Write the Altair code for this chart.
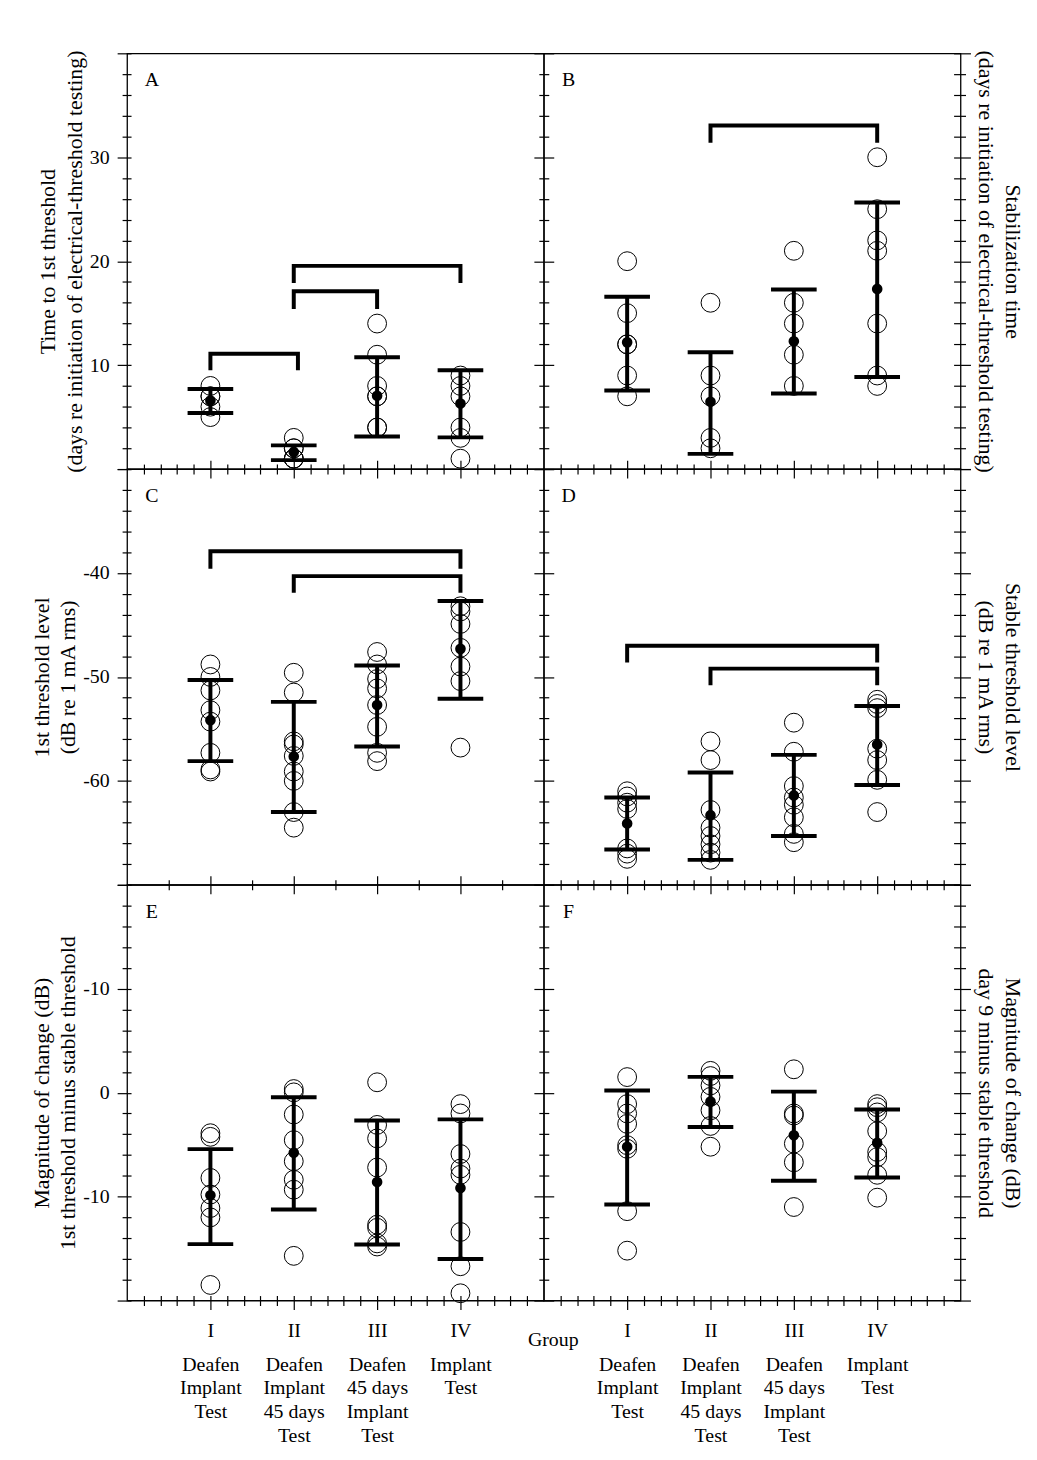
import json
import altair as alt
import pandas as pd

FONT = "Liberation Serif"

GROUPS = [1, 2, 3, 4]
ROMAN = ["I", "II", "III", "IV"]
DESCR = [["Deafen", "Implant", "Test"],
         ["Deafen", "Implant", "45 days", "Test"],
         ["Deafen", "45 days", "Implant", "Test"],
         ["Implant", "Test"]]

# ---- Panel A: time to 1st threshold (days)
A_POINTS = [[8, 7, 7, 6, 5], [3, 2, 2, 1, 1, 1], [14, 11, 8, 7, 7, 4, 4], [9, 8, 7, 4, 3, 1]]
A_MEAN = [6.6, 1.65, 7.05, 6.3]
A_UPPER = [7.7, 2.28, 10.76, 9.5]
A_LOWER = [5.4, 0.86, 3.14, 3.05]
A_BRACKETS = [(1, 2.05, 11.1, 9.5), (2, 3, 17.1, 15.4), (2, 4, 19.55, 17.9)]

# ---- Panel B: stabilization time (days)
B_POINTS = [[20, 15, 12, 12, 9, 7], [16, 9, 7, 3, 2], [21, 16, 14, 11, 8], [30, 25, 22, 21, 14, 9, 8]]
B_MEAN = [12.19, 6.48, 12.29, 17.33]
B_UPPER = [16.57, 11.24, 17.27, 25.65]
B_LOWER = [7.55, 1.46, 7.27, 8.86]
B_BRACKETS = [(2, 4, 33.05, 31.4)]

# ---- Panel C: 1st threshold level (dB)
C_POINTS = [[-48.8, -50.0, -51.3, -53.2, -54.3, -57.3, -58.9, -59.1],
            [-49.6, -51.5, -56.2, -56.5, -57.6, -59.1, -60.0, -63.0, -64.5],
            [-47.6, -48.8, -50.2, -51.1, -52.7, -54.8, -57.3, -58.1],
            [-43.2, -43.7, -44.9, -47.2, -49.0, -50.4, -56.8]]
C_MEAN = [-54.16, -57.65, -52.7, -47.3]
C_UPPER = [-50.3, -52.4, -48.9, -42.7]
C_LOWER = [-58.1, -63.0, -56.7, -52.1]
C_BRACKETS = [(1, 4, -37.9, -39.6), (2, 4, -40.3, -41.9)]

# ---- Panel D: stable threshold level (dB)
D_POINTS = [[-61.0, -61.5, -62.1, -62.7, -66.5, -67.0, -67.5],
            [-56.2, -58.0, -62.8, -64.5, -65.3, -66.1, -66.9, -67.6],
            [-54.4, -57.2, -60.5, -61.6, -62.3, -63.5, -65.1, -65.9],
            [-52.2, -52.6, -53.0, -56.9, -58.0, -59.9, -63.0]]
D_MEAN = [-64.1, -63.3, -61.4, -56.5]
D_UPPER = [-61.6, -59.2, -57.5, -52.8]
D_LOWER = [-66.6, -67.6, -65.3, -60.4]
D_BRACKETS = [(1, 4, -47.0, -48.6), (2, 4, -49.2, -50.8)]

# ---- Panel E: 1st threshold minus stable threshold (dB, axis reversed)
E_POINTS = [[3.9, 4.25, 8.2, 9.8, 11.1, 12.0, 18.5],
            [-0.35, -0.03, 2.1, 4.57, 6.6, 8.38, 9.33, 15.7],
            [-1.0, 3.1, 4.4, 7.2, 12.7, 13.0, 14.5, 14.8],
            [1.1, 2.0, 5.9, 7.3, 7.9, 13.4, 16.7, 19.3]]
E_MEAN = [9.87, 5.78, 8.6, 9.17]
E_UPPER = [5.43, 0.44, 2.67, 2.57]
E_LOWER = [14.57, 11.24, 14.6, 16.0]

# ---- Panel F: day 9 minus stable threshold (dB, axis reversed)
F_POINTS = [[-1.5, 1.1, 2.0, 3.0, 5.05, 5.4, 11.4, 15.2],
            [-2.1, -1.6, -0.7, 0.4, 1.7, 3.2, 5.2],
            [-2.25, 2.0, 2.2, 4.9, 6.7, 11.0],
            [1.1, 1.4, 1.9, 3.7, 5.7, 6.2, 7.9, 10.1]]
F_MEAN = [5.2, 0.86, 4.1, 4.83]
F_UPPER = [-0.2, -1.52, -0.1, 1.62]
F_LOWER = [10.76, 3.3, 8.48, 8.16]

TITLES = {
    "A": ["Time to 1st threshold", "(days re initiation of electrical-threshold testing)"],
    "B": ["Stabilization time", "(days re initiation of electrical-threshold testing)"],
    "C": ["1st threshold level", "(dB re 1 mA rms)"],
    "D": ["Stable threshold level", "(dB re 1 mA rms)"],
    "E": ["Magnitude of change (dB)", "1st threshold minus stable threshold"],
    "F": ["Magnitude of change (dB)", "day 9 minus stable threshold"],
}

W = 420
H = 419


def xticks(step):
    n = int(round(5 / step))
    return [round(i * step, 2) for i in range(1, n)]


def yticks(dom):
    lo, hi = min(dom), max(dom)
    return list(range(lo, hi + 1, 2))


X_MAJOR = {"condition": {"test": "abs(datum.value - round(datum.value)) < 0.01", "value": 9}, "value": 5}
Y_MAJOR = {"condition": {"test": "datum.value % 10 === 0", "value": 10}, "value": 5}


def tick_axis(orient, values, size, offset=0):
    return alt.Axis(orient=orient, values=values, labels=False, domain=False, grid=False,
                    ticks=True, tickSize=size, offset=offset, title=None)


def panel(letter, side, row, dom, rev, points, mean, up, lo, brackets,
          ylab_values, ylab_expr, xbot_step, xtop_step):
    xs = alt.Scale(domain=[0, 5], nice=False, zero=False)
    ys = alt.Scale(domain=dom, nice=False, zero=False, reverse=rev)
    pts = pd.DataFrame([{"g": g, "v": v} for g, vals in zip(GROUPS, points) for v in vals])
    stats = pd.DataFrame({"g": GROUPS, "m": mean, "u": up, "l": lo})

    def X(ax=None):
        return alt.X("g:Q", scale=xs, axis=ax)

    def Y(field, ax=None):
        return alt.Y(field + ":Q", scale=ys, axis=ax)

    layers = []
    carriers = []
    carriers.append((tick_axis("bottom", xticks(xbot_step), X_MAJOR),
                     tick_axis("left", yticks(dom), Y_MAJOR)))
    carriers.append((tick_axis("top", xticks(xtop_step), X_MAJOR) if row > 0 else None,
                     tick_axis("right", yticks(dom), Y_MAJOR)))
    inner_y = (tick_axis("left", yticks(dom), 4, offset=-4) if side == "left"
               else tick_axis("right", yticks(dom), 7, offset=-7))
    carriers.append((tick_axis("bottom", xticks(xbot_step), 5, offset=-5) if row == 2 else None,
                     inner_y))
    if side == "left":
        ylab = alt.Axis(orient="left", values=ylab_values, ticks=False, tickSize=0, domain=False,
                        grid=False, labelPadding=18, labelExpr=ylab_expr,
                        title=TITLES[letter], titlePadding=3)
    else:
        ylab = alt.Axis(orient="right", labels=False, ticks=False, tickSize=0, domain=False,
                        grid=False, title=TITLES[letter], titlePadding=13)
    xrom = None
    if row == 2:
        rom_expr = "[''," + ",".join("'%s'" % r for r in ROMAN) + "][datum.value]"
        rom_kw = dict(orient="bottom", values=GROUPS, ticks=False, tickSize=0, domain=False,
                      grid=False, labelPadding=20, labelExpr=rom_expr, labelOverlap=False,
                      title=None)
        if letter == "E":
            rom_kw.update(title="Group", titleX=W + 9, titleY=39, titleAlign="center",
                          titleBaseline="middle", titleAngle=0, titleFontSize=20)
        xrom = alt.Axis(**rom_kw)
    carriers.append((xrom, ylab))
    if row == 2:
        desc_expr = json.dumps([[]] + DESCR) + "[datum.value]"
        xdesc = alt.Axis(orient="bottom", values=GROUPS, ticks=False, tickSize=0, domain=False,
                         grid=False, labelPadding=54, labelExpr=desc_expr, labelOverlap=False,
                         labelLineHeight=24, title=None)
        carriers.append((xdesc, None))

    for xa, ya in carriers:
        layers.append(alt.Chart(pts).mark_point(opacity=0).encode(x=X(xa), y=Y("v", ya)))

    layers.append(alt.Chart(stats).mark_rule(strokeWidth=4, color="black").encode(
        x=X(), y=Y("l"), y2="u:Q"))
    for f in ("u", "l"):
        layers.append(alt.Chart(stats).mark_tick(orient="horizontal", size=46, thickness=4,
                                                  color="black", opacity=1).encode(x=X(), y=Y(f)))
    layers.append(alt.Chart(pts).mark_point(shape="circle", filled=False, size=360, stroke="black",
                                            strokeWidth=1, opacity=1).encode(x=X(), y=Y("v")))
    layers.append(alt.Chart(stats).mark_point(shape="circle", filled=True, size=115, color="black",
                                              opacity=1).encode(x=X(), y=Y("m")))
    if brackets:
        rows = []
        for i, (a, b, top, foot) in enumerate(brackets):
            for o, (gx, gy) in enumerate([(a, foot), (a, top), (b, top), (b, foot)]):
                rows.append({"g": gx, "v": gy, "b": i, "o": o})
        layers.append(alt.Chart(pd.DataFrame(rows)).mark_line(
            strokeWidth=4, color="black", strokeJoin="miter", strokeCap="butt").encode(
            x=X(), y=Y("v"), detail="b:N", order="o:Q"))
    layers.append(alt.Chart(pd.DataFrame({"t": [letter]})).mark_text(
        font=FONT, fontSize=20, align="center", baseline="middle", color="black").encode(
        text="t:N", x=alt.value(25), y=alt.value(27)))

    return alt.layer(*layers).resolve_axis(x="independent", y="independent").properties(
        width=W, height=H)


PLAIN_EXPR = "'' + datum.value"
E_EXPR = "datum.value == 0 ? '0' : '-' + abs(datum.value)"

pA = panel("A", "left", 0, [0, 40], False, A_POINTS, A_MEAN, A_UPPER, A_LOWER, A_BRACKETS,
           [10, 20, 30], PLAIN_EXPR, 0.2, 0.2)
pB = panel("B", "right", 0, [0, 40], False, B_POINTS, B_MEAN, B_UPPER, B_LOWER, B_BRACKETS,
           [], PLAIN_EXPR, 0.2, 0.2)
pC = panel("C", "left", 1, [-70, -30], False, C_POINTS, C_MEAN, C_UPPER, C_LOWER, C_BRACKETS,
           [-60, -50, -40], PLAIN_EXPR, 0.5, 0.2)
pD = panel("D", "right", 1, [-70, -30], False, D_POINTS, D_MEAN, D_UPPER, D_LOWER, D_BRACKETS,
           [], PLAIN_EXPR, 0.2, 0.2)
pE = panel("E", "left", 2, [-20, 20], True, E_POINTS, E_MEAN, E_UPPER, E_LOWER, [],
           [-10, 0, 10], E_EXPR, 0.2, 0.5)
pF = panel("F", "right", 2, [-20, 20], True, F_POINTS, F_MEAN, F_UPPER, F_LOWER, [],
           [], PLAIN_EXPR, 0.2, 0.2)

chart = alt.concat(pA, pB, pC, pD, pE, pF, columns=2, spacing=0, bounds="flush").properties(
    padding={"left": 21, "top": 35, "right": 5, "bottom": 5}
).configure_view(
    stroke="black", strokeWidth=1.3
).configure_axis(
    grid=False, domain=False,
    labelFont=FONT, labelFontSize=20, labelColor="black",
    titleFont=FONT, titleFontSize=22, titleFontWeight="normal", titleColor="black",
    titleLineHeight=27, tickColor="black", tickWidth=1.2
)

chart.save("out.html", embed_options={"renderer": "svg", "actions": False})
